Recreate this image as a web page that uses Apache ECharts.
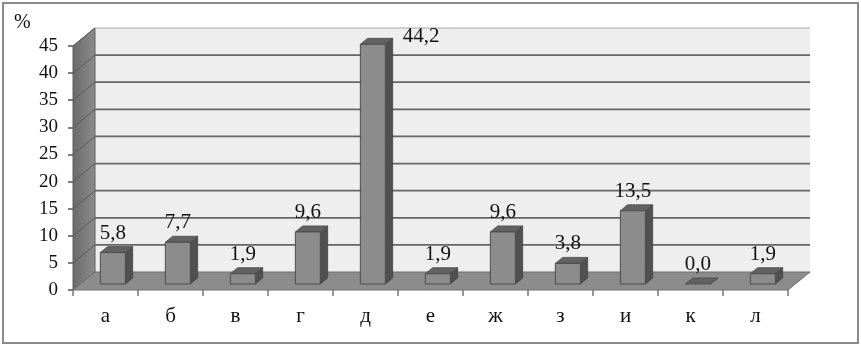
<!DOCTYPE html>
<html><head><meta charset="utf-8">
<script src="https://cdn.jsdelivr.net/npm/echarts@6/dist/echarts.min.js"></script>
<style>html,body{margin:0;padding:0;background:#fff}#c{width:861px;height:347px}</style>
</head><body><div id="c"></div>
<script>
const categories = ['а','б','в','г','д','е','ж','з','и','к','л'];
const values = [5.8, 7.7, 1.9, 9.6, 44.2, 1.9, 9.6, 3.8, 13.5, 0.0, 1.9];
const yTicks = [0, 5, 10, 15, 20, 25, 30, 35, 40, 45];
const unitLabel = '%';

const DX = 22, DY = -18;
const FONT = '"Liberation Serif", "Times New Roman", serif';
function fmt(v){ return v.toFixed(1).replace('.', ','); }

const chart = echarts.init(document.getElementById('c'), null, {renderer:'canvas'});

function renderWalls(params, api){
  const bw = api.size([1,0])[0];
  const n = categories.length;
  const x0 = api.coord([0, 0])[0] - bw/2;
  const x1 = api.coord([n-1, 0])[0] + bw/2;
  const yv = v => api.coord([0, v])[1];
  const y0 = yv(yTicks[0]), yTop = yv(yTicks[yTicks.length-1]);
  const ch = [];
  ch.push({type:'rect', shape:{x:x0+DX, y:yTop+DY, width:x1-x0, height:y0-yTop}, style:{fill:'#eeeeee'}});
  ch.push({type:'polygon', shape:{points:[[x0,y0],[x0,yTop],[x0+DX,yTop+DY],[x0+DX,y0+DY]]},
    style:{fill:new echarts.graphic.LinearGradient(0,0,1,0,[{offset:0,color:'#6a6a6a'},{offset:1,color:'#8c8c8c'}]), stroke:'#5e5e5e', lineWidth:1}});
  yTicks.forEach((v, k) => {
    if (v === yTicks[0]) return;
    const y = yv(v);
    const last = k === yTicks.length-1;
    ch.push({type:'line', shape:{x1:x0+DX, y1:y+DY, x2:x1+DX, y2:y+DY},
      style:{stroke: last ? '#a8a8a8' : '#666666', lineWidth: last ? 1 : 1.8}});
    ch.push({type:'line', shape:{x1:x0, y1:y, x2:x0+DX, y2:y+DY},
      style:{stroke:'#5a5a5a', lineWidth:1}});
  });
  ch.push({type:'polygon', shape:{points:[[x0,y0],[x1,y0],[x1+DX,y0+DY],[x0+DX,y0+DY]]},
    style:{fill:'#8c8c8c', stroke:'#6e6e6e', lineWidth:1}});
  return {type:'group', children:ch};
}

function renderBar(params, api){
  const i = api.value(0), v = api.value(1);
  const c = api.coord([i, v]);
  const b = api.coord([i, 0]);
  const bw = api.size([1,0])[0];
  const w = bw * 25/65;
  const f1 = 1/3, f2 = 2/3;
  const cx = c[0] + DX*f1;
  const L = cx - w/2, R = cx + w/2;
  const Ty = c[1] + DY*f1, By = b[1] + DY*f1;
  const ox = DX*(f2-f1), oy = DY*(f2-f1);
  const ch = [];
  ch.push({type:'polygon', shape:{points:[[R,By],[R,Ty],[R+ox,Ty+oy],[R+ox,By+oy]]}, style:{fill:'#505050', stroke:'#444', lineWidth:0.8}});
  ch.push({type:'polygon', shape:{points:[[L,Ty],[R,Ty],[R+ox,Ty+oy],[L+ox,Ty+oy]]}, style:{fill:'#626262', stroke:'#4a4a4a', lineWidth:0.8}});
  if (By - Ty > 0.5) {
    ch.push({type:'rect', shape:{x:L, y:Ty, width:w, height:By-Ty}, style:{fill:'#8c8c8c', stroke:'#4c4c4c', lineWidth:1}});
  }
  const backTop = Ty + oy;
  const wallTop = api.coord([0, yTicks[yTicks.length-1]])[1] + DY;
  let lx = cx, ly = backTop - 13.5, align = 'center';
  if (ly - 10 < wallTop) { lx = R + ox + 10; ly = backTop - 2; align = 'left'; }
  ch.push({type:'text', x:lx, y:ly, style:{text:fmt(v), align:align, verticalAlign:'middle',
    font:'21px ' + FONT, fill:'#111'}});
  return {type:'group', children:ch};
}

chart.setOption({
  animation:false,
  grid:{left:73, right:73, top:46, bottom:57},
  graphic:[
    {type:'rect', shape:{x:3, y:3, width:855, height:340}, style:{fill:null, stroke:'#8a8a8a', lineWidth:2}, z:0},
    {type:'text', left:14, top:13, style:{text:unitLabel, font:'20px ' + FONT, fill:'#111'}}
  ],
  xAxis:{type:'category', data:categories,
    axisLine:{show:false},
    axisTick:{show:true, length:6, lineStyle:{color:'#777', width:1.5}},
    axisLabel:{fontFamily:'Liberation Serif', fontSize:21, color:'#111', margin:16},
    splitLine:{show:false}},
  yAxis:{type:'value', min:yTicks[0], max:yTicks[yTicks.length-1], interval:yTicks[1]-yTicks[0],
    axisLine:{show:false},
    axisTick:{show:true, length:5, lineStyle:{color:'#555', width:1.5}},
    axisLabel:{fontFamily:'Liberation Serif', fontSize:19, color:'#111', margin:15},
    splitLine:{show:false}},
  series:[
    {type:'custom', name:'walls', renderItem:renderWalls, data:[[0,0]], clip:false, silent:true, z:1},
    {type:'custom', name:'values', renderItem:renderBar, data:values.map((v,i)=>[i,v]), clip:false, z:2}
  ]
});
</script></body></html>
